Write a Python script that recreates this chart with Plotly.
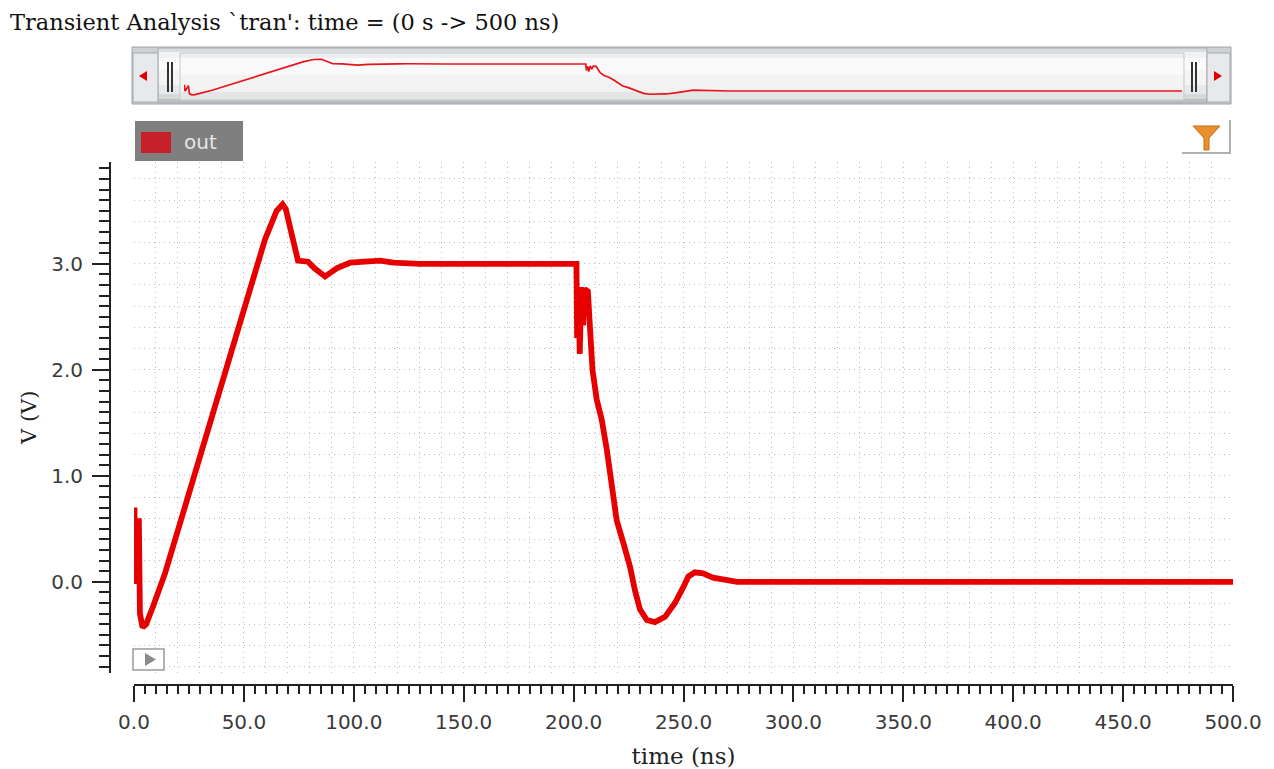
import plotly.graph_objects as go

# ---------------- data ----------------
t_ns = [0.0, 0.2, 0.6, 2.2, 2.7, 3.9, 5.5, 8.7, 14.1, 20.9, 27.8, 34.6, 41.4, 48.2,
        55.1, 59.6, 64.9, 67.6, 69.0, 72.3, 74.6, 79.2, 82.0, 86.9, 92.4, 98.3,
        107.4, 112.0, 118.0, 130.0, 201.3, 201.6, 202.2, 202.8, 203.5, 204.3,
        205.0, 206.5, 207.3, 208.0, 208.6, 210.5, 212.8, 215.1, 217.3, 219.6,
        222.6, 225.7, 227.9, 230.2, 233.3, 237.0, 241.6, 246.1, 249.9, 252.2,
        255.2, 258.9, 263.4, 268.0, 274.4, 290.0, 400.0, 500.0]
v_out = [0.00, 0.70, -0.02, 0.60, -0.30, -0.43, -0.40, -0.23, 0.08, 0.55, 1.03, 1.50,
         1.97, 2.44, 2.92, 3.23, 3.50, 3.56, 3.52, 3.23, 3.03, 3.02, 2.96, 2.88,
         2.96, 3.01, 3.02, 3.03, 3.01, 3.00, 3.00, 2.30, 2.75, 2.15, 2.78, 2.42,
         2.76, 2.74, 2.45, 2.15, 2.00, 1.72, 1.53, 1.25, 0.93, 0.58, 0.37, 0.14,
         -0.08, -0.26, -0.36, -0.38, -0.33, -0.20, -0.05, 0.05, 0.09, 0.08, 0.04,
         0.02, 0.00, 0.00, 0.00, 0.00]

x_tick_vals = [0, 50, 100, 150, 200, 250, 300, 350, 400, 450, 500]
x_tick_text = ["0.0", "50.0", "100.0", "150.0", "200.0", "250.0", "300.0",
               "350.0", "400.0", "450.0", "500.0"]
y_tick_vals = [0, 1, 2, 3]
y_tick_text = ["0.0", "1.0", "2.0", "3.0"]

series_name = "out"
title_text = "Transient Analysis `tran': time = (0 s -> 500 ns)"

# ---------------- layout helpers (pixel -> paper) ----------------
W, H = 1274, 769
L, R, T, B = 60, 30, 40, 60
PW, PH = W - L - R, H - T - B


def px(x):
    return (x - L) / PW


def py(y):
    return (H - B - y) / PH


RED = "#e60000"
AX = "#222222"
TICKFONT = dict(family="DejaVu Sans", size=20, color="#3a3a3a")
SERIF = "DejaVu Serif"

fig = go.Figure()
# main waveform (grid subplot)
fig.add_trace(go.Scatter(x=t_ns, y=v_out, name=series_name, mode="lines",
                         line=dict(color=RED, width=5.8), xaxis="x", yaxis="y",
                         hoverinfo="skip", showlegend=False))
# empty trace so that the offset axes (x2/y2) form a subplot and get drawn
fig.add_trace(go.Scatter(x=[None], y=[None], mode="lines", xaxis="x2", yaxis="y2",
                         hoverinfo="skip", showlegend=False))
# overview waveform inside the scroll widget
fig.add_trace(go.Scatter(x=t_ns, y=v_out, name=series_name, mode="lines",
                         line=dict(color="#e8141c", width=1.7), xaxis="x3", yaxis="y3",
                         hoverinfo="skip", showlegend=False))

xdom = [px(134), px(1233)]
ydom = [py(672.5), py(162)]
xr = [0, 500]
yr = [-0.855, 3.96]
GRID = dict(showgrid=True, gridcolor="#bdbdbd", gridwidth=1, griddash="1px,4px")

shapes = []


def rect(x0, y0, x1, y1, fill, line=None, lw=1, layer="below"):
    shapes.append(dict(type="rect", xref="paper", yref="paper",
                       x0=px(x0), x1=px(x1), y0=py(y1), y1=py(y0),
                       fillcolor=fill, line=dict(color=line or fill, width=lw if line else 0),
                       layer=layer))


def path(pts, fill=None, line=None, lw=1, layer="below", close=True):
    d = "M" + " L".join(f"{px(a):.5f},{py(b):.5f}" for a, b in pts) + (" Z" if close else "")
    shapes.append(dict(type="path", xref="paper", yref="paper", path=d,
                       fillcolor=fill if fill else "rgba(0,0,0,0)",
                       line=dict(color=line or "rgba(0,0,0,0)", width=lw if line else 0),
                       layer=layer))


# --- overview scroll widget ---
rect(132, 47, 1231, 104, "#cdd1d5", "#9ea3a8", 1)
strips = [(48, 52, "#d9dde0"), (52, 58, "#f0f2f3"), (58, 70, "#fbfbfb"), (70, 85, "#f4f4f4"),
          (85, 94, "#e8e9ea"), (94, 99, "#d6d8da"), (99, 103, "#bcc0c4")]
for y0, y1, c in strips:
    rect(158, y0, 1207, y1, c)
path([(158, 48), (1207, 48), (1207, 103), (158, 103)], None, "#a9aeb3", 1)
inner = [(53, 58, "#eceeef"), (58, 75, "#fafafa"), (75, 92, "#f3f3f3"), (92, 100, "#e4e5e6")]
for y0, y1, c in inner:
    rect(180, y0, 1184, y1, c)
path([(180, 53), (1184, 53), (1184, 100), (180, 100)], None, "#c3c7cb", 1)
rect(133, 53, 158, 102, "#e8e9ea", "#a5a9ad", 1)
rect(1207, 53, 1230, 102, "#e8e9ea", "#a5a9ad", 1)
path([(139, 76), (147, 71), (147, 81)], "#e00000")
path([(1222, 76), (1214, 71), (1214, 81)], "#e00000")
for xh in (168, 172, 1192, 1196):
    path([(xh, 62), (xh, 92)], None, "#333333", 2, close=False)

# --- legend box ---
rect(135, 121, 243, 161, "#7f7f7f", layer="above")
rect(141, 132, 171, 153, "#c8202a", layer="above")

# --- filter icon ---
path([(1193, 126), (1220, 126), (1209, 138), (1209, 150), (1204, 150), (1204, 138)],
     "#e8902c", "#c46c14", 1, layer="above")
path([(1182, 153), (1230, 153), (1230, 120)], None, "#b0b0b0", 2, layer="above", close=False)

# --- small play button ---
rect(133, 649, 164, 670, "#ffffff", "#9a9a9a", 1.5, layer="above")
path([(145, 653), (145, 666), (156, 659.5)], "#8a8a8a", layer="above")

annotations = [dict(text=series_name, xref="paper", yref="paper", x=px(182), y=py(142),
                    xanchor="left", yanchor="middle", showarrow=False,
                    font=dict(family="DejaVu Sans", size=20, color="#e6e6e6"))]

fig.update_layout(
    width=W, height=H,
    margin=dict(l=L, r=R, t=T, b=B, autoexpand=False),
    paper_bgcolor="white", plot_bgcolor="rgba(0,0,0,0)",
    showlegend=False, hovermode=False,
    title=dict(text=title_text, x=10 / W, xref="container", xanchor="left",
               y=1 - 22 / H, yref="container", yanchor="middle",
               font=dict(family=SERIF, size=22.5, color="#111111")),
    # grid axes (carry the data)
    xaxis=dict(domain=xdom, range=xr, anchor="y", tickmode="linear", tick0=0, dtick=10,
               showticklabels=False, ticks="", showline=False, zeroline=False,
               automargin=False, **GRID),
    yaxis=dict(domain=ydom, range=yr, anchor="x", tickmode="linear", tick0=0, dtick=0.2,
               showticklabels=False, ticks="", showline=False, zeroline=False,
               automargin=False, **GRID),
    # offset axes with line, ticks, labels, titles
    xaxis2=dict(domain=xdom, range=xr, anchor="free", position=py(685),
                showline=True, linecolor=AX, linewidth=2, ticks="outside", ticklen=16,
                tickwidth=1.5, tickcolor=AX, tickmode="array", tickvals=x_tick_vals,
                ticktext=x_tick_text, tickfont=TICKFONT, showgrid=False, zeroline=False,
                automargin=False, ticklabelstandoff=3,
                minor=dict(tickmode="linear", tick0=0, dtick=5, ticklen=8, tickwidth=1.5,
                           tickcolor=AX, ticks="outside", showgrid=False),
                title=dict(text="time (ns)", font=dict(family=SERIF, size=23, color="#222222"),
                           standoff=15)),
    yaxis2=dict(domain=ydom, range=yr, anchor="free", position=px(110),
                showline=True, linecolor=AX, linewidth=2, ticks="outside", ticklen=17,
                tickwidth=2, tickcolor=AX, tickmode="array", tickvals=y_tick_vals,
                ticktext=y_tick_text, tickfont=TICKFONT, showgrid=False, zeroline=False,
                automargin=False, ticklabelstandoff=5,
                minor=dict(tickmode="linear", tick0=0, dtick=0.1, ticklen=10, tickwidth=2,
                           tickcolor=AX, ticks="outside", showgrid=False),
                title=dict(text="V (V)", font=dict(family=SERIF, size=21, color="#222222"),
                           standoff=8)),
    xaxis3=dict(domain=[px(184), px(1182)], range=xr, anchor="y3", visible=False),
    yaxis3=dict(domain=[py(103), py(50)], range=[-1.333, 4.556], anchor="x3", visible=False),
    shapes=shapes,
    annotations=annotations,
)

fig.write_html("out.html")
